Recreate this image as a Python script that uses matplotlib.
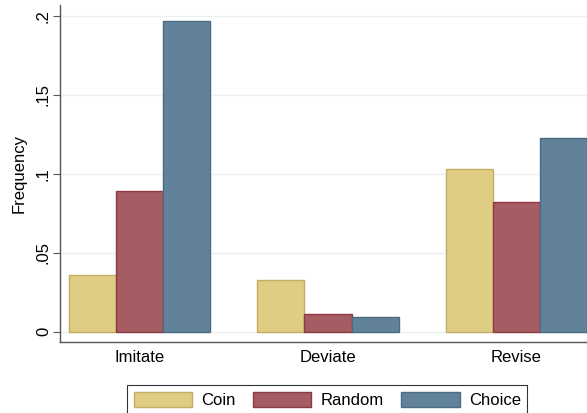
import numpy as np
import matplotlib
matplotlib.use("Agg")
from matplotlib import pyplot as plt

plt.rcParams['font.family'] = ['Liberation Sans', 'DejaVu Sans']

categories = ["Imitate", "Deviate", "Revise"]
series_names = ["Coin", "Random", "Choice"]
coin = [0.036, 0.0327, 0.103]
random_ = [0.089, 0.0112, 0.0819]
choice = [0.1966, 0.0093, 0.1224]

face_colors = ["#e0cd84", "#a55c62", "#62829a"]
edge_colors = ["#c4ad62", "#8e3a45", "#4a6b85"]
yticks = [0, 0.05, 0.1, 0.15, 0.2]
ytick_labels = ["0", ".05", ".1", ".15", ".2"]

fig = plt.figure(figsize=(5.87, 4.13), dpi=100)
ax = fig.add_axes([60/587, 1 - 341.7/413, 527/587, 336.7/413])

centers = np.arange(len(categories)) * 4
for i, (vals, name) in enumerate(zip([coin, random_, choice], series_names)):
    ax.bar(centers + (i - 1), vals, width=1.0, color=face_colors[i],
           edgecolor=edge_colors[i], linewidth=1.0, label=name, zorder=3)

ax.set_xlim(-1.69, 9.5)
ax.set_ylim(-0.0063, 0.2068)
ax.set_yticks(yticks)
ax.set_yticklabels(ytick_labels, rotation=90, va="center", fontsize=12)
ax.set_xticks(centers)
ax.set_xticklabels(categories, fontsize=12)
ax.tick_params(axis="x", length=0, pad=6)
ax.tick_params(axis="y", length=5, width=0.8, color="#555555", pad=1.5)
ax.grid(axis="y", color="#eaf0f2", linewidth=1.0, zorder=0)
ax.set_ylabel("Frequency", fontsize=12, labelpad=7)

for s in ["top", "right"]:
    ax.spines[s].set_visible(False)
for s in ["left", "bottom"]:
    ax.spines[s].set_color("#555555")
    ax.spines[s].set_linewidth(1.0)

leg = fig.legend(loc="upper left", bbox_to_anchor=(127/587, 1 - 385/413),
                 ncol=3, frameon=True, fancybox=False, fontsize=12,
                 handlelength=3.5, handleheight=1.0, columnspacing=1.05,
                 borderpad=0.4, handletextpad=0.55, borderaxespad=0)
leg.get_frame().set_edgecolor("black")
leg.get_frame().set_linewidth(0.8)

fig.savefig("out.png", dpi=100)
